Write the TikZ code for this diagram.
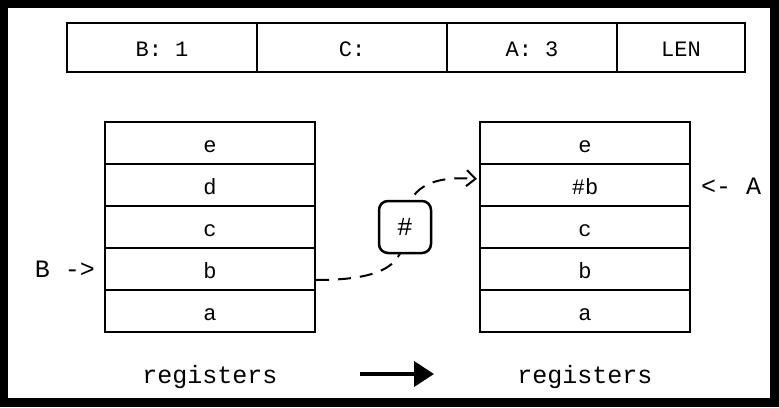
\documentclass[tikz,border=0pt]{standalone}
\usepackage{fontspec}
\setmonofont{Liberation Mono}
\usetikzlibrary{arrows.meta}
\begin{document}
\begin{tikzpicture}[x=1pt,y=-1pt,
  hdr/.style={draw, line width=2pt, minimum height=49pt, inner sep=0pt,
    text height=22pt, text depth=4pt, font=\ttfamily\fontsize{22}{22}\selectfont},
  reg/.style={draw, line width=2pt, minimum width=210pt, minimum height=42pt,
    inner sep=0pt, text height=22pt, text depth=4pt,
    font=\ttfamily\fontsize{22}{22}\selectfont},
  lbl/.style={inner sep=0pt, anchor=base, font=\ttfamily\fontsize{25}{25}\selectfont},
  capt/.style={inner sep=0pt, anchor=base, font=\ttfamily\fontsize{25}{25}\selectfont},
  opbox/.style={draw, line width=2.5pt, rounded corners=9pt, fill=white,
    minimum width=52pt, minimum height=52pt, inner sep=0pt,
    font=\ttfamily\fontsize{26}{26}\selectfont},
  flow/.style={line width=2pt, dash pattern=on 13pt off 9pt,
    -{Straight Barb[length=9pt,width=16pt]}, shorten >=2pt},
  step arrow/.style={line width=4pt, -{Triangle[length=20pt,width=25pt]}}]

% black frame around a white sheet
\fill[black] (0,0) rectangle (779,407);
\fill[white] (8,8) rectangle (770,398);
\useasboundingbox (0,0) rectangle (779,407);

% header row
\node[hdr, minimum width=190pt] (tb) at (162,47.5) {B: 1};
\node[hdr, minimum width=190pt] (tc) at (352,47.5) {C:};
\node[hdr, minimum width=170pt] (ta) at (532,47.5) {A: 3};
\node[hdr, minimum width=128pt] (tl) at (681,47.5) {LEN};

% registers before
\node[reg] (le) at (210,143) {e};
\node[reg] (ld) at (210,185) {d};
\node[reg] (lc) at (210,227) {c};
\node[reg] (lb) at (210,269) {b};
\node[reg] (la) at (210,311) {a};

% registers after
\node[reg] (re) at (585,143) {e};
\node[reg] (rh) at (585,185) {\#b};
\node[reg] (rc) at (585,227) {c};
\node[reg] (rb) at (585,269) {b};
\node[reg] (ra) at (585,311) {a};

% pointers
\node[lbl] (bptr) at (65,277) {B ->};
\node[lbl] (aptr) at (731,194) {<- A};

% hashing step: the curve runs behind the box
\coordinate (hc) at (405,227);
\draw[flow] ([yshift=-11pt]lb.east) .. controls +(78,0) and +(0,32) .. (hc)
  .. controls +(0,-42) and +(-45,-3) .. ([yshift=6pt]rh.west);
\node[opbox] (hash) at (hc) {\#};

% captions and the step arrow
\node[capt] (lcap) at (210,383) {registers};
\node[capt] (rcap) at (585,383) {registers};
\coordinate (s1) at (360,374);
\coordinate (s2) at (434,374);
\draw[step arrow] (s1) -- (s2);
\end{tikzpicture}
\end{document}
